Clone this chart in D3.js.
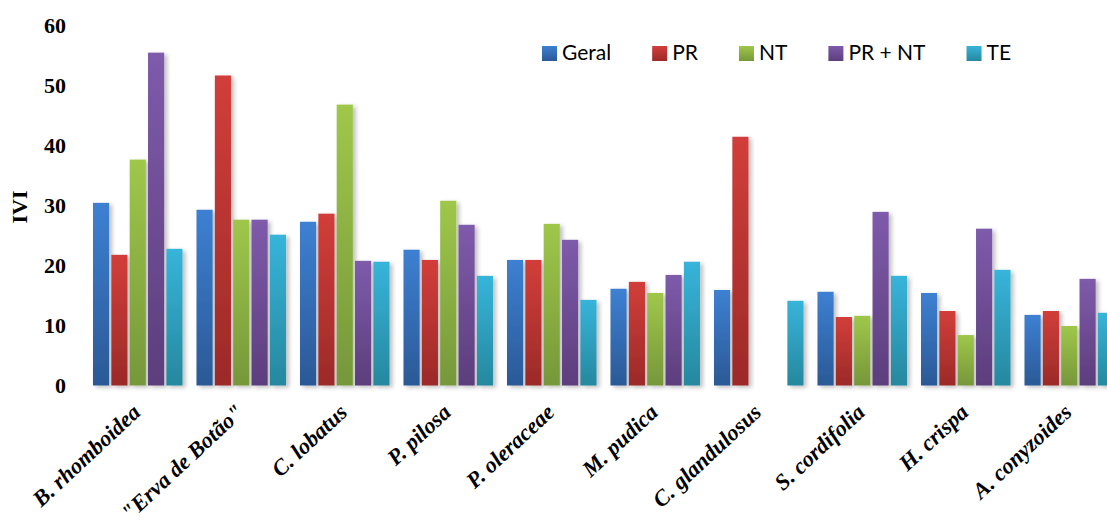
<!DOCTYPE html>
<html><head><meta charset="utf-8">
<script src="https://cdn.jsdelivr.net/npm/d3@7"></script>
<style>html,body{margin:0;padding:0;background:#fff;overflow:hidden}</style>
</head><body>
<svg id="chart" width="1107" height="527"></svg>
<script>
const categories = ["B. rhomboidea", "\"Erva de Botão\"", "C. lobatus", "P. pilosa", "P. oleraceae", "M. pudica", "C. glandulosus", "S. cordifolia", "H. crispa", "A. conyzoides"];
const seriesNames = ["Geral", "PR", "NT", "PR + NT", "TE"];
const geral = [30.4, 29.25, 27.25, 22.6, 20.9, 16.1, 15.9, 15.6, 15.4, 11.75];
const pr = [21.75, 51.6, 28.6, 20.9, 20.9, 17.25, 41.4, 11.4, 12.4, 12.4];
const nt = [37.6, 27.6, 46.75, 30.75, 26.9, 15.4, 0, 11.6, 8.4, 9.9];
const prnt = [55.4, 27.6, 20.75, 26.75, 24.25, 18.4, 0, 28.9, 26.1, 17.75];
const te = [22.75, 25.1, 20.6, 18.25, 14.25, 20.6, 14.1, 18.25, 19.25, 12.1];
const yTicks = [0, 10, 20, 30, 40, 50, 60];
const yLabel = "IVI";

const seriesValues = [geral, pr, nt, prnt, te];
const colors = [["#3d80d2", "#2b5996"], ["#d23e3a", "#9b2a28"], ["#9fc74a", "#76973a"], ["#7e5bab", "#5c3e7c"], ["#37b4da", "#26889e"]];

const svg = d3.select("#chart");
const defs = svg.append("defs");
colors.forEach((c, i) => {
  const g = defs.append("linearGradient").attr("id", "grad" + i).attr("x1", 0).attr("y1", 0).attr("x2", 0).attr("y2", 1);
  g.append("stop").attr("offset", "0%").attr("stop-color", c[0]);
  g.append("stop").attr("offset", "100%").attr("stop-color", c[1]);
});
const f = defs.append("filter").attr("id", "shadow").attr("x", "-30%").attr("y", "-10%").attr("width", "170%").attr("height", "130%");
f.append("feDropShadow").attr("dx", 3).attr("dy", 2).attr("stdDeviation", 2).attr("flood-color", "#000").attr("flood-opacity", 0.25);

const mLeft = 86, mRight = 1121, mTop = 25, mBottom = 385.5;
const x0 = d3.scaleBand().domain(categories).range([mLeft, mRight]).paddingInner(0.135).paddingOuter(0.0675);
const x1 = d3.scaleBand().domain(seriesNames).range([0, x0.bandwidth()]).paddingInner(0.12);
const y = d3.scaleLinear().domain([0, 60]).range([mBottom, mTop]);

// bars
const data = categories.map((c, ci) => seriesNames.map((s, si) => ({cat: c, s, si, v: seriesValues[si][ci]})));
const gGroups = svg.append("g").selectAll("g").data(data).join("g")
  .attr("transform", d => `translate(${x0(d[0].cat)},0)`);
gGroups.selectAll("rect").data(d => d.filter(e => e.v > 0)).join("rect")
  .attr("x", d => x1(d.s)).attr("width", x1.bandwidth())
  .attr("y", d => y(d.v)).attr("height", d => y(0) - y(d.v))
  .attr("fill", d => `url(#grad${d.si})`)
  .attr("filter", "url(#shadow)");

// x axis line
svg.append("line").attr("x1", mLeft).attr("x2", 1107).attr("y1", y(0)).attr("y2", y(0))
  .attr("stroke", "#000").attr("stroke-width", 2).attr("filter", "url(#shadow)");

// y axis labels
const yAxis = d3.axisLeft(y).tickValues(yTicks).tickSize(0).tickPadding(0);
const ya = svg.append("g").attr("transform", `translate(66,0)`).call(yAxis);
ya.select(".domain").remove();
ya.selectAll("text").attr("font-family", "'Liberation Serif', 'Times New Roman', serif")
  .attr("font-weight", "bold").attr("font-size", 22).attr("fill", "#000").attr("dy", "0.34em");

svg.append("text").attr("transform", "translate(27,207) rotate(-90)").attr("text-anchor", "middle")
  .attr("font-family", "'Liberation Serif', serif").attr("font-weight", "bold").attr("font-size", 22)
  .text(yLabel);

// x labels
svg.append("g").selectAll("text").data(categories).join("text")
  .attr("transform", d => `translate(${x0(d) + x0.bandwidth() / 2 + 4},${414}) rotate(-43)`)
  .attr("text-anchor", "end")
  .attr("font-family", "'Liberation Serif', serif").attr("font-weight", "bold").attr("font-style", "italic")
  .attr("font-size", 22.5).text(d => d);

// legend
const lg = svg.append("g");
let lx = 542;
seriesNames.forEach((s, i) => {
  lg.append("rect").attr("x", lx).attr("y", 46).attr("width", 15).attr("height", 15).attr("fill", `url(#grad${i})`);
  const t = lg.append("text").attr("x", lx + 20).attr("y", 60).attr("font-family", "Lato, 'Liberation Sans', sans-serif")
    .attr("font-size", 21).attr("fill", "#000").text(s);
  lx = lx + 20 + t.node().getComputedTextLength() + 41;
});
</script>
</body></html>
